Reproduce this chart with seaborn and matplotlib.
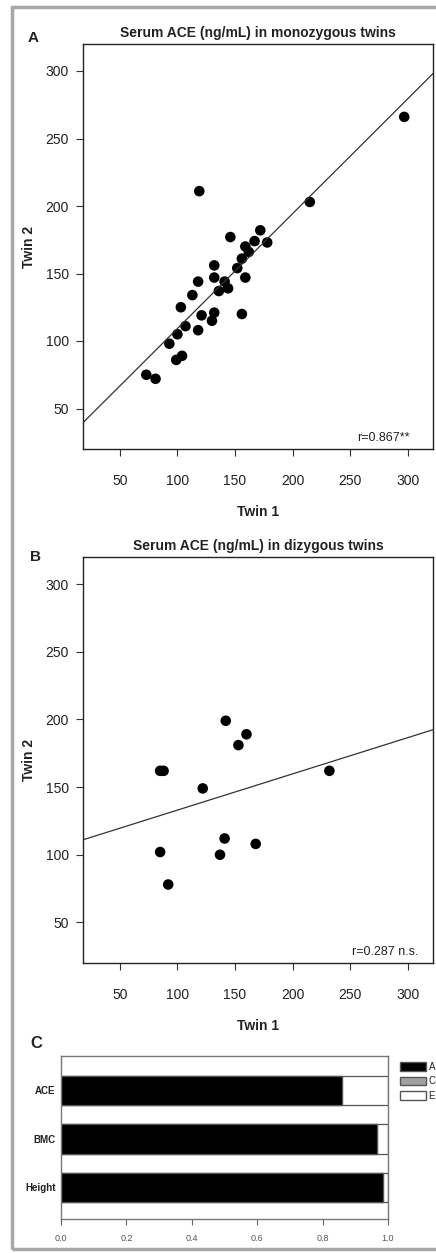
import numpy as np
import pandas as pd
import matplotlib
matplotlib.use("Agg")
import matplotlib.pyplot as plt
import seaborn as sns
from matplotlib.patches import Rectangle, Patch

# ---------------- data ----------------
mz_twin1 = [73, 81, 93, 100, 99, 104, 103, 107, 113, 118, 118, 121, 119, 132, 132,
            132, 130, 136, 141, 144, 146, 152, 156, 156, 159, 159, 162, 167, 172,
            178, 215, 297]
mz_twin2 = [75, 72, 98, 105, 86, 89, 125, 111, 134, 144, 108, 119, 211, 156, 147,
            121, 115, 137, 144, 139, 177, 154, 161, 120, 147, 170, 166, 174, 182,
            173, 203, 266]
dz_twin1 = [85, 88, 122, 142, 153, 160, 232, 85, 92, 137, 141, 168]
dz_twin2 = [162, 162, 149, 199, 181, 189, 162, 102, 78, 100, 112, 108]

traits = ["ACE", "BMC", "Height"]
comp_A = [0.86, 0.965, 0.985]
comp_C = [0.0, 0.0, 0.0]
comp_E = [0.14, 0.035, 0.015]

ticks_scatter = [50, 100, 150, 200, 250, 300]
ticks_bar = [0.0, 0.2, 0.4, 0.6, 0.8, 1.0]

# ---------------- style ----------------
sns.set_style("ticks")
plt.rcParams["font.family"] = ["Liberation Sans", "DejaVu Sans"]

W, H = 436, 1253
fig = plt.figure(figsize=(W / 100, H / 100), dpi=100)


def px_axes(l, t, r, b):
    return fig.add_axes([l / W, 1 - b / H, (r - l) / W, (b - t) / H])


def scatter_panel(ax, x, y, title, rtext, rx):
    ax.set_xlim(18, 322)
    ax.set_ylim(20, 320)
    sns.regplot(x=x, y=y, ax=ax, ci=None, truncate=False,
                scatter_kws=dict(s=58, color="black", edgecolor="none", alpha=1),
                line_kws=dict(color="#333333", lw=0.9))
    ax.set_xlim(18, 322)
    ax.set_ylim(20, 320)
    ax.set_xticks(ticks_scatter)
    ax.set_yticks(ticks_scatter)
    ax.tick_params(axis="both", labelsize=10, length=5, width=0.8, color="#333333",
                   labelcolor="#222222")
    ax.tick_params(axis="x", pad=13)
    ax.tick_params(axis="y", pad=5)
    for s in ax.spines.values():
        s.set_visible(True)
        s.set_linewidth(1.0)
        s.set_color("#222222")
    ax.set_title(title, fontsize=10, fontweight="bold", pad=5, color="#222222")
    ax.set_xlabel("Twin 1", fontsize=10, fontweight="bold", labelpad=12, color="#222222")
    ax.set_ylabel("Twin 2", fontsize=10, fontweight="bold", labelpad=7, color="#222222")
    ax.text(rx, 0.012, rtext, transform=ax.transAxes, ha="right", va="bottom",
            fontsize=9, color="#222222")


axA = px_axes(83, 44, 433, 449)
scatter_panel(axA, mz_twin1, mz_twin2, "Serum ACE (ng/mL) in monozygous twins",
              "r=0.867**", 0.934)

axB = px_axes(83, 557, 433, 963)
scatter_panel(axB, dz_twin1, dz_twin2, "Serum ACE (ng/mL) in dizygous twins",
              "r=0.287 n.s.", 0.957)

# ---------------- panel C ----------------
axC = px_axes(61, 1056, 388, 1219)
tot_E = [a + c + e for a, c, e in zip(comp_A, comp_C, comp_E)]
tot_C = [a + c for a, c in zip(comp_A, comp_C)]
edge = "#555555"
sns.barplot(x=tot_E, y=traits, color="white", edgecolor=edge, linewidth=0.9,
            width=0.6, orient="h", ax=axC, saturation=1)
sns.barplot(x=tot_C, y=traits, color="#a0a0a0", edgecolor=edge, linewidth=0.9,
            width=0.6, orient="h", ax=axC, saturation=1)
sns.barplot(x=comp_A, y=traits, color="black", edgecolor=edge, linewidth=0.9,
            width=0.6, orient="h", ax=axC, saturation=1)
axC.set_xlim(0, 1.0)
axC.set_ylim(2.65, -0.71)
axC.set_xticks(ticks_bar)
axC.set_xticklabels([f"{t:.1f}" for t in ticks_bar])
axC.set_xlabel("")
axC.set_ylabel("")
axC.tick_params(axis="x", labelsize=6.5, length=4, width=0.8, color="#666666",
                labelcolor="#555555", pad=7)
axC.tick_params(axis="y", labelsize=7, length=0, pad=4, labelcolor="#222222")
for lbl in axC.get_yticklabels():
    lbl.set_fontweight("bold")
for s in axC.spines.values():
    s.set_visible(True)
    s.set_linewidth(1.0)
    s.set_color("#777777")

handles = [Patch(facecolor="black", edgecolor=edge, label="A"),
           Patch(facecolor="#a0a0a0", edgecolor=edge, label="C"),
           Patch(facecolor="white", edgecolor=edge, label="E")]
axC.legend(handles=handles, loc="upper left", bbox_to_anchor=(1.02, 1.0),
           frameon=False, fontsize=7, handlelength=2.6, handleheight=1.0,
           handletextpad=0.3, labelspacing=0.45, borderaxespad=0.2)

# ---------------- panel letters & frame ----------------
fig.text(33 / W, 1 - 38 / H, "A", fontsize=11, fontweight="bold", ha="center",
         va="center", color="#222222")
fig.text(35 / W, 1 - 557 / H, "B", fontsize=11, fontweight="bold", ha="center",
         va="center", color="#222222")
fig.text(36 / W, 1 - 1043 / H, "C", fontsize=12, fontweight="bold", ha="center",
         va="center", color="#222222")

frame = Rectangle((12 / W, 1 - 1249 / H), (W + 20 - 12) / W, (1249 - 7) / H,
                  transform=fig.transFigure, fill=False, edgecolor="#a8a8a8",
                  linewidth=2.5, clip_on=False)
fig.patches.append(frame)

fig.savefig("out.png", dpi=100)
